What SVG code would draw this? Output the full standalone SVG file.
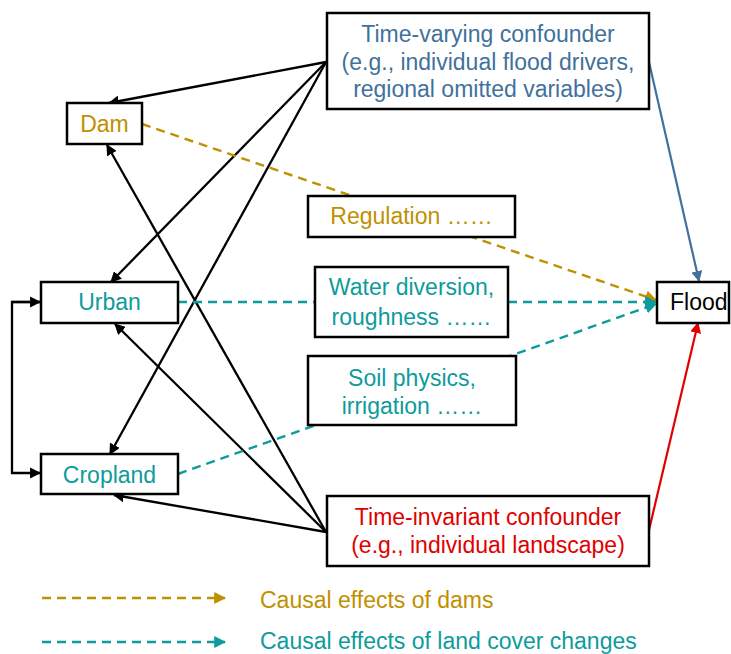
<svg xmlns="http://www.w3.org/2000/svg" width="731" height="654" viewBox="0 0 731 654">
<defs>
<style>
text{font-family:"Liberation Sans",Arial,sans-serif;font-size:23px}
.box{fill:#fff;stroke:#000;stroke-width:2.5}
.gold{fill:#BF9000}
.teal{fill:#0E9B9B}
.blue{fill:#41719C}
.red{fill:#E00000}
.blk{fill:#000}
.c{stroke:#000;stroke-width:2.3;fill:none}
.dg{stroke:#BF9000;stroke-width:2.4;stroke-dasharray:9 6;fill:none}
.dt{stroke:#0E9B9B;stroke-width:2.4;stroke-dasharray:9 6;fill:none}
</style>
<marker id="ak" viewBox="0 0 10 10" refX="9" refY="5" markerWidth="4.8" markerHeight="4.8" orient="auto" markerUnits="strokeWidth"><path d="M0,0L10,5L0,10z" fill="#000"/></marker>
<marker id="ab" viewBox="0 0 10 10" refX="9" refY="5" markerWidth="5" markerHeight="5" orient="auto" markerUnits="strokeWidth"><path d="M0,0L10,5L0,10z" fill="#41719C"/></marker>
<marker id="ar" viewBox="0 0 10 10" refX="9" refY="5" markerWidth="5" markerHeight="5" orient="auto" markerUnits="strokeWidth"><path d="M0,0L10,5L0,10z" fill="#E00000"/></marker>
<marker id="ag" viewBox="0 0 10 10" refX="9" refY="5" markerWidth="5" markerHeight="5" orient="auto" markerUnits="strokeWidth"><path d="M0,0L10,5L0,10z" fill="#BF9000"/></marker>
<marker id="at" viewBox="0 0 10 10" refX="9" refY="5" markerWidth="5" markerHeight="5" orient="auto" markerUnits="strokeWidth"><path d="M0,0L10,5L0,10z" fill="#0E9B9B"/></marker>
</defs>
<rect width="731" height="654" fill="#fff"/>
<g id="connectors">
<line class="c" x1="326" y1="62" x2="109" y2="103" marker-end="url(#ak)"/>
<line class="c" x1="326" y1="62" x2="111" y2="282" marker-end="url(#ak)"/>
<line class="c" x1="326" y1="62" x2="110" y2="454" marker-end="url(#ak)"/>
<line class="c" x1="326" y1="532" x2="107" y2="145" marker-end="url(#ak)"/>
<line class="c" x1="326" y1="532" x2="115" y2="324" marker-end="url(#ak)"/>
<line class="c" x1="326" y1="532" x2="114" y2="495" marker-end="url(#ak)"/>
<line x1="649" y1="62" x2="699" y2="281" stroke="#41719C" stroke-width="2.2" marker-end="url(#ab)"/>
<line x1="649" y1="530" x2="698" y2="323" stroke="#E00000" stroke-width="2.2" marker-end="url(#ar)"/>
<polyline class="c" points="40,302 12,302 12,473 40,473" marker-end="url(#ak)"/>
<line class="c" x1="12" y1="302" x2="40" y2="302" marker-end="url(#ak)"/>
<line class="dg" x1="142" y1="124" x2="656" y2="300" marker-end="url(#ag)"/>
<line class="dt" x1="178" y1="302" x2="656" y2="302" marker-end="url(#at)"/>
<line class="dt" x1="178" y1="474" x2="656" y2="304" marker-end="url(#at)"/>
</g>
<g id="tv"><rect class="box" x="327" y="13" width="322" height="96"/>
<text class="blue" x="488" y="42" text-anchor="middle">Time-varying confounder</text>
<text class="blue" x="488" y="70" text-anchor="middle">(e.g., individual flood drivers,</text>
<text class="blue" x="488" y="97" text-anchor="middle">regional omitted variables)</text></g>
<g id="dam"><rect class="box" x="67" y="103" width="75" height="41"/>
<text class="gold" x="104.5" y="132" text-anchor="middle">Dam</text></g>
<g id="urban"><rect class="box" x="41" y="282" width="137" height="41"/>
<text class="teal" x="109.5" y="310" text-anchor="middle">Urban</text></g>
<g id="cropland"><rect class="box" x="41" y="454" width="137" height="40"/>
<text class="teal" x="109.5" y="483" text-anchor="middle">Cropland</text></g>
<g id="regulation"><rect class="box" x="308" y="196" width="207" height="41"/>
<text class="gold" x="411.5" y="224" text-anchor="middle">Regulation ……</text></g>
<g id="water"><rect class="box" x="315" y="267" width="193" height="70"/>
<text class="teal" x="411.5" y="295" text-anchor="middle">Water diversion,</text>
<text class="teal" x="411.5" y="325" text-anchor="middle">roughness ……</text></g>
<g id="soil"><rect class="box" x="308" y="356" width="208" height="69"/>
<text class="teal" x="412" y="386" text-anchor="middle">Soil physics,</text>
<text class="teal" x="412" y="414" text-anchor="middle">irrigation ……</text></g>
<g id="ti"><rect class="box" x="327" y="496" width="322" height="70"/>
<text class="red" x="488" y="525" text-anchor="middle">Time-invariant confounder</text>
<text class="red" x="488" y="553" text-anchor="middle">(e.g., individual landscape)</text></g>
<g id="flood"><rect class="box" x="657" y="282" width="72" height="41"/>
<text class="blk" x="670" y="310">Flood</text></g>
<g id="legend">
<line class="dg" x1="42" y1="598" x2="225" y2="598" marker-end="url(#ag)"/>
<text class="gold" x="260" y="608">Causal effects of dams</text>
<line class="dt" x1="42" y1="642" x2="225" y2="642" marker-end="url(#at)"/>
<text class="teal" x="260" y="649">Causal effects of land cover changes</text>
</g>
</svg>
